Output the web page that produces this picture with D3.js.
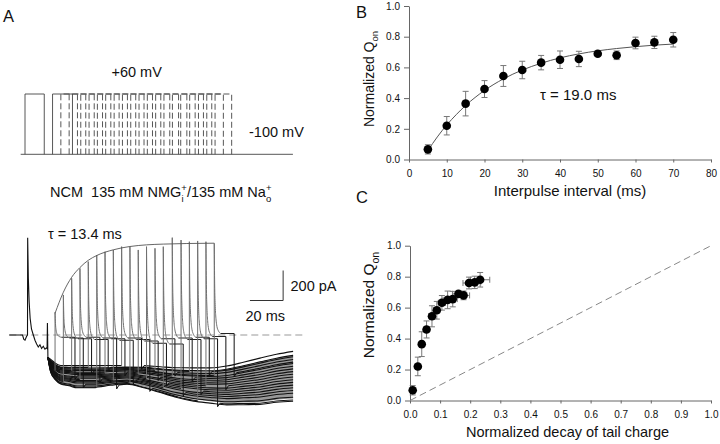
<!DOCTYPE html>
<html><head><meta charset="utf-8">
<script src="https://cdn.jsdelivr.net/npm/d3@7"></script>
<style>
body{margin:0;background:#fff}
svg{display:block}
text{font-family:"Liberation Sans",Arial,Helvetica,sans-serif;fill:#111}
</style>
</head><body>
<svg id="c" width="720" height="444"></svg>
<script>
// ---------------- DATA ----------------
// Panel B / C : steady-state on-charge recovery
const intervals = [5,10,15,20,25,30,35,40,45,50,55,60,65,70];           // ms
const qOn      = [0.066,0.220,0.364,0.459,0.544,0.583,0.631,0.650,0.655,0.689,0.679,0.759,0.763,0.780];
const qOnErr   = [0.030,0.060,0.080,0.055,0.068,0.057,0.047,0.057,0.050,0.010,0.028,0.038,0.040,0.047];
const fitT     = [5,7.5,10,12.5,15,17.5,20,25,30,35,40,45,50,55,60,65,70];
const fitQ     = [0.059,0.147,0.225,0.292,0.352,0.404,0.450,0.525,0.583,0.627,0.662,0.688,0.708,0.723,0.735,0.745,0.752];
const tailDecay    = [0.009,0.026,0.039,0.055,0.073,0.089,0.106,0.125,0.142,0.161,0.178,0.196,0.215,0.233];
const tailDecayErr = [0.003,0.005,0.006,0.008,0.010,0.010,0.012,0.015,0.015,0.020,0.020,0.020,0.020,0.032];
const bTicksX = [0,10,20,30,40,50,60,70,80];
const bTicksY = [0,0.2,0.4,0.6,0.8,1.0];
const cTicksX = [0,0.1,0.2,0.3,0.4,0.5,0.6,0.7,0.8,0.9,1.0];
const cTicksY = [0,0.2,0.4,0.6,0.8,1.0];
const identityLine = [0,1];

// Panel A : voltage protocol (ms, mV)
const protoLevels  = [-100, 60];
const pulse1       = [0, 11.6];
const pulseDur     = 12;
// Panel A : current records (ms, pA)
const spikeTimes = [16.6,21.6,26.6,31.6,36.6,41.7,46.7,51.7,56.7,61.7,66.7,71.7,76.8,81.8,87.2,92.5,97.5,102.5,107.5,112.5];
const spikePeaks = [151,267,378,444,489,533,555,567,589,589,567,589,578,589,649,633,622,627,622,611];
const plateaus   = [-15,-20,-25,-15,-30,-20,-25,-35,-20,-30,-40,-55,-25,-60,-20,-30,-15,-25,-10,10];
const sweepRank  = [0.1,-0.6,0.5,-0.2,0.8,-0.9,0.3,-0.4,0.95,-0.75,0.2,-0.1,0.65,-0.5,0.4,-0.3,0.75,-0.85,0.0,0.55];
const envT = [16.6,21.6,26.6,31.6,36.6,41.7,51.7,61.7,71.7,81.8,96,112.5];
const envI = [145,285,385,450,498,530,568,590,601,606,610,612];
const spikeShapeT = [0,0.25,0.6,1.0,1.6,2.5,3.8];
const spikeShapeF = [1,0.55,0.3,0.17,0.08,0.03,0];
const firstT = [-11,-3,-2.2,-1.5,-0.6,0,0.1,0.5,1.0,1.6,2.4,3.5,4.5,5.5,6.5,7.5,8.5,9.5,10.5,11.5,11.8,12.0,12.3];
const firstI = [0,0,-30,-35,-10,0,649,380,220,110,40,0,-35,-60,-80,-65,-90,-75,-95,-85,-90,80,-150];
const bandT    = [12.3,14,17,20,25,30,40,50,60,70,80,90,100,110,120,130,140,150,160];
const bandMid  = [-150,-207,-247,-267,-273,-280,-280,-273,-267,-280,-300,-320,-333,-340,-340,-327,-313,-293,-280];
const bandHalf = [5,47,60,67,73,80,80,73,67,80,93,107,120,127,140,153,167,173,180];

// ---------------- DRAW ----------------
const svg = d3.select('#c');
const FONT = '"Liberation Sans",Arial,Helvetica,sans-serif';

function styleAxis(g){
  g.attr('font-family', FONT).attr('font-size', 10);
  g.selectAll('path.domain').attr('stroke', '#666').attr('stroke-width', 1);
  g.selectAll('.tick line').attr('stroke', '#666');
  g.selectAll('.tick text').attr('fill', '#222');
}

function scatterPanel(opt){
  const g = svg.append('g');
  const {x, y} = opt;
  const gx = g.append('g').attr('transform', `translate(0,${y.range()[0]})`)
    .call(d3.axisBottom(x).tickValues(opt.ticksX).tickSize(3).tickSizeOuter(0).tickPadding(7).tickFormat(opt.fmtX));
  styleAxis(gx);
  const gy = g.append('g').attr('transform', `translate(${x.range()[0]},0)`)
    .call(d3.axisLeft(y).tickValues(opt.ticksY).tickSize(5).tickSizeOuter(0).tickPadding(4).tickFormat(d3.format('.1f')));
  styleAxis(gy);
  return g;
}

function errBars(g, xs, ys, errY, errX, x, y){
  const col = '#777';
  xs.forEach((xv,i)=>{
    const cx = x(xv), y0 = y(ys[i]-errY[i]), y1 = y(ys[i]+errY[i]);
    g.append('line').attr('x1',cx).attr('x2',cx).attr('y1',y0).attr('y2',y1).attr('stroke',col).attr('stroke-width',1);
    [y0,y1].forEach(yy=>g.append('line').attr('x1',cx-3).attr('x2',cx+3).attr('y1',yy).attr('y2',yy).attr('stroke',col).attr('stroke-width',1));
    if(errX){
      const cy = y(ys[i]), x0 = x(xv-errX[i]), x1 = x(xv+errX[i]);
      g.append('line').attr('x1',x0).attr('x2',x1).attr('y1',cy).attr('y2',cy).attr('stroke',col).attr('stroke-width',1);
      [x0,x1].forEach(xx=>g.append('line').attr('x1',xx).attr('x2',xx).attr('y1',cy-3).attr('y2',cy+3).attr('stroke',col).attr('stroke-width',1));
    }
  });
}

function dots(g, xs, ys, x, y){
  g.selectAll(null).data(xs).join('circle')
    .attr('cx',(d)=>x(d)).attr('cy',(d,i)=>y(ys[i])).attr('r',4.3).attr('fill','#000');
}

function yLabel(xp, yc, size){
  const t = svg.append('text').attr('transform',`translate(${xp},${yc}) rotate(-90)`)
    .attr('text-anchor','middle').attr('font-size',size);
  t.append('tspan').text('Normalized Q');
  t.append('tspan').text('on').attr('font-size',size*0.68).attr('dy',size*0.3);
}

// ---- Panel B
const xB = d3.scaleLinear().domain([0,80]).range([409,711]);
const yB = d3.scaleLinear().domain([0,1]).range([159.5,6]);
const gB = scatterPanel({x:xB, y:yB, ticksX:bTicksX, ticksY:bTicksY, fmtX:d3.format('d')});
gB.append('path').datum(fitT.map((t,i)=>[t,fitQ[i]]))
  .attr('d', d3.line().x(d=>xB(d[0])).y(d=>yB(d[1])).curve(d3.curveMonotoneX))
  .attr('fill','none').attr('stroke','#555').attr('stroke-width',1);
errBars(gB, intervals, qOn, qOnErr, null, xB, yB);
dots(gB, intervals, qOn, xB, yB);
svg.append('text').attr('x',540).attr('y',100).attr('font-size',15).text('τ = 19.0 ms');
svg.append('text').attr('x',570).attr('y',195.5).attr('text-anchor','middle').attr('font-size',15).text('Interpulse interval (ms)');
yLabel(374, 79, 14);

// ---- Panel C
const xC = d3.scaleLinear().domain([0,1]).range([410,711]);
const yC = d3.scaleLinear().domain([0,1]).range([400.5,245.7]);
const gC = scatterPanel({x:xC, y:yC, ticksX:cTicksX, ticksY:cTicksY, fmtX:d3.format('.1f')});
gC.append('line').attr('x1',xC(identityLine[0])).attr('y1',yC(identityLine[0]))
  .attr('x2',xC(identityLine[1])).attr('y2',yC(identityLine[1]))
  .attr('stroke','#888').attr('stroke-width',1).attr('stroke-dasharray','7,4');
errBars(gC, tailDecay, qOn, qOnErr, tailDecayErr, xC, yC);
dots(gC, tailDecay, qOn, xC, yC);
svg.append('text').attr('x',567.5).attr('y',437).attr('text-anchor','middle').attr('font-size',14.5).text('Normalized decay of tail charge');
yLabel(374, 305, 15.5);

// panel letters
svg.append('text').attr('x',3).attr('y',22).attr('font-size',16.5).text('A');
svg.append('text').attr('x',356).attr('y',17.5).attr('font-size',16.5).text('B');
svg.append('text').attr('x',356).attr('y',203).attr('font-size',16.5).text('C');

// ---- Panel A : protocol
const xP = d3.scaleLinear().domain([0,20]).range([25,58.2]);
const yP = d3.scaleLinear().domain(protoLevels).range([154.3,94]);
const gP = svg.append('g').attr('fill','none').attr('stroke','#444').attr('stroke-width',0.9);
gP.append('line').attr('x1',xP(-2.6)).attr('x2',xP(161.4)).attr('y1',yP(-100)).attr('y2',yP(-100));
gP.append('path').attr('d', d3.line()([[xP(pulse1[0]),yP(-100)],[xP(pulse1[0]),yP(60)],[xP(pulse1[1]),yP(60)],[xP(pulse1[1]),yP(-100)]]));
spikeTimes.forEach((t,k)=>{
  const p = gP.append('path').attr('d', d3.line()([[xP(t),yP(-100)],[xP(t),yP(60)],[xP(t+pulseDur),yP(60)],[xP(t+pulseDur),yP(-100)]]));
  if(k>0) p.attr('stroke-dasharray','6,3');
});
svg.append('text').attr('x',111.5).attr('y',77).attr('font-size',14.5).text('+60 mV');
svg.append('text').attr('x',249).attr('y',136.5).attr('font-size',14.5).text('-100 mV');

// condition label
{
  const t = svg.append('text').attr('x',50).attr('y',197).attr('font-size',14.5).style('white-space','pre');
  t.append('tspan').text('NCM  135 mM NMG');
  t.append('tspan').text('+').attr('font-size',9.5).attr('dy',-6);
  t.append('tspan').text('i').attr('font-size',9.5).attr('dy',11).attr('dx',-5.5);
  t.append('tspan').text('/135 mM Na').attr('dy',-5).attr('dx',3.4);
  t.append('tspan').text('+').attr('font-size',9.5).attr('dy',-6);
  t.append('tspan').text('o').attr('font-size',9.5).attr('dy',11).attr('dx',-5.5);
}

// ---- Panel A : currents
const xA = d3.scaleLinear().domain([0,20]).range([27.5,60.7]);
const yA = d3.scaleLinear().domain([0,200]).range([335,305]);
const midAt  = d3.scaleLinear().domain(bandT).range(bandMid).clamp(true);
const halfAt = d3.scaleLinear().domain(bandT).range(bandHalf).clamp(true);
const levelAt = (t,k)=> midAt(t) + sweepRank[k]*halfAt(t);
const line = d3.line().x(d=>xA(d[0])).y(d=>yA(d[1]));
const smooth = d3.line().x(d=>xA(d[0])).y(d=>yA(d[1])).curve(d3.curveMonotoneX);
const gA = svg.append('g').attr('fill','none');

// zero line
gA.append('line').attr('x1',9.3).attr('x2',305).attr('y1',yA(0)).attr('y2',yA(0))
  .attr('stroke','#999').attr('stroke-width',1).attr('stroke-dasharray','7,4');

// dense noisy baseline band (texture of the overlaid -100 mV records)
gA.append('path').datum(bandT)
  .attr('d', d3.area().x(t=>xA(t)).y0((t,i)=>yA(bandMid[i]-bandHalf[i]*0.8)).y1((t,i)=>yA(bandMid[i]+bandHalf[i]*0.8)).curve(d3.curveMonotoneX))
  .attr('fill','#1a1a1a').attr('fill-opacity',0.45).attr('stroke','none');

// baselines (black) for each sweep: before and after the test pulse
spikeTimes.forEach((tk,k)=>{
  const pre = [[bandT[0], bandMid[0]]];
  bandT.forEach(t=>{ if(t>bandT[0] && t<tk) pre.push([t, levelAt(t,k)]); });
  pre.push([tk, levelAt(tk,k)]);
  gA.append('path').attr('d', smooth(pre)).attr('stroke','#111').attr('stroke-width',1.1);
  const te = tk + pulseDur;
  const post = [[te, plateaus[k]], [te, levelAt(te,k)-25], [te+1.5, levelAt(te+1.5,k)]];
  bandT.forEach(t=>{ if(t>te+1.5) post.push([t, levelAt(t,k)]); });
  gA.append('path').attr('d', line(post.slice(0,3)) ).attr('stroke','#111').attr('stroke-width',1);
  gA.append('path').attr('d', smooth(post.slice(2))).attr('stroke','#111').attr('stroke-width',1.1);
});

// plateaus (dark)
spikeTimes.forEach((tk,k)=>{
  gA.append('path').attr('d', line([[tk+spikeShapeT[spikeShapeT.length-1], plateaus[k]],[tk+pulseDur, plateaus[k]]]))
    .attr('stroke','#222').attr('stroke-width',1);
});

// on-charge spikes (grey)
spikeTimes.forEach((tk,k)=>{
  const pts = [[tk, levelAt(tk,k)]];
  spikeShapeT.forEach((s,i)=>pts.push([tk+s, plateaus[k] + (spikePeaks[k]-plateaus[k])*spikeShapeF[i]]));
  gA.append('path').attr('d', smooth(pts.slice(1))).attr('stroke','#707070').attr('stroke-width',1);
  gA.append('path').attr('d', line(pts.slice(0,2))).attr('stroke','#707070').attr('stroke-width',1);
});

// common first-pulse response
gA.append('path').attr('d', line(firstT.map((t,i)=>[t, firstI[i]])))
  .attr('stroke','#111').attr('stroke-width',1.1);

// exponential envelope fit
gA.append('path').attr('d', smooth(envT.map((t,i)=>[t, envI[i]])))
  .attr('stroke','#555').attr('stroke-width',0.9);

svg.append('text').attr('x',48).attr('y',239).attr('font-size',14.5).text('τ = 13.4 ms');

// scale bars
const sb = [134, 154], sv = [230, 430];
gA.append('path').attr('d', d3.line()([[xA(sb[0]),yA(sv[0])],[xA(sb[1]),yA(sv[0])],[xA(sb[1]),yA(sv[1])]]))
  .attr('stroke','#333').attr('stroke-width',1);
svg.append('text').attr('x',290.5).attr('y',290.5).attr('font-size',14.5).text('200 pA');
svg.append('text').attr('x',245.5).attr('y',320.5).attr('font-size',14.5).text('20 ms');
</script>
</body></html>
